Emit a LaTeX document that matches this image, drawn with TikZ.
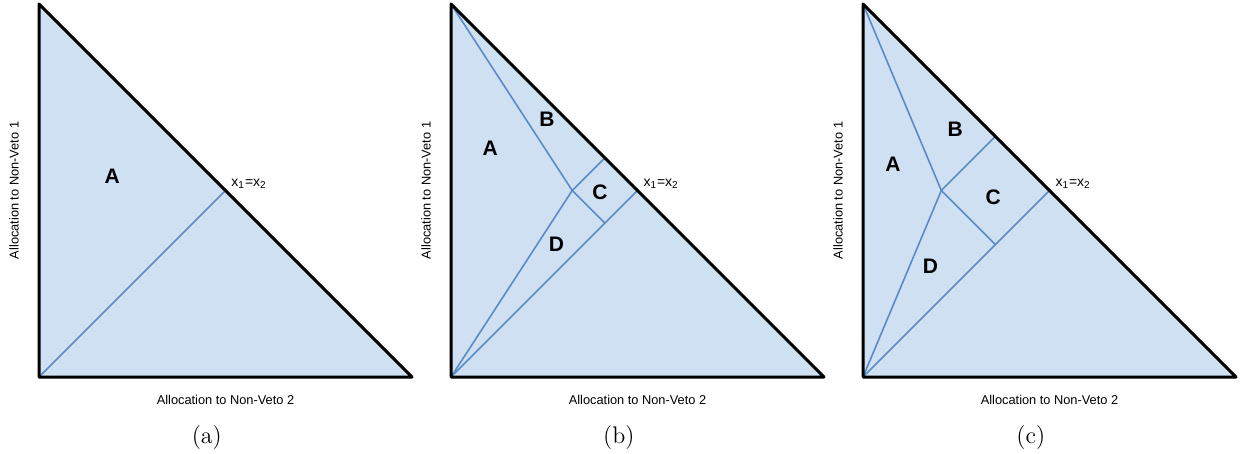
\documentclass[tikz,border=0pt]{standalone}
\usepackage{fontspec}
\usepackage{tikz}
\newfontfamily\arialfont{Liberation Sans}
\definecolor{PaleBlue}{HTML}{CFE0F3}
\definecolor{SteelBlue}{HTML}{5B8BC5}
\usetikzlibrary{calc}
\tikzset{
    frontier/.style={draw=black, line width=1.5pt, line join=round},
    split/.style={draw=SteelBlue, line width=0.8pt},
    letter/.style={font=\arialfont\bfseries\fontsize{10.5}{12}\selectfont},
    axislabel/.style={font=\arialfont\fontsize{6.4}{7.5}\selectfont},
    diaglabel/.style={font=\arialfont\fontsize{7}{8}\selectfont, anchor=base west, inner sep=0pt},
    caption/.style={font=\fontsize{12}{14}\selectfont},
}

\begin{document}
\begin{tikzpicture}[x=186.5pt, y=186.5pt]
    \useasboundingbox (0pt,0pt) rectangle (621pt,-227pt);

    % Panel (a)
    \begin{scope}[shift={(19.5pt,-188.5pt)}]
        \coordinate (Oa) at (0,0);
        \coordinate (Ta) at (0,1);
        \coordinate (Ra) at (1,0);
        \coordinate (Ma) at (0.5,0.5); % x1 = x2
        \fill[PaleBlue] (Oa) -- (Ta) -- (Ra) -- cycle;
        \draw[split] (Oa) -- (Ma);
        \draw[frontier] (Ra) -- (Oa) -- (Ta) -- cycle;
        \node[letter] (Aa) at (0.196,0.539) {A};
        \node[diaglabel] (eqa) at (0.515,0.510) {x\textsubscript{1}=x\textsubscript{2}};
        \node[axislabel, rotate=90] (ya) at (-0.067,0.5) {Allocation to Non-Veto 1};
        \node[axislabel] (xa) at (0.5,-0.0617) {Allocation to Non-Veto 2};
        \node[caption] (capa) at (0.45,-0.161) {(a)};
    \end{scope}

    % Panel (b)
    \begin{scope}[shift={(225.5pt,-188.5pt)}]
        \coordinate (Ob) at (0,0);
        \coordinate (Tb) at (0,1);
        \coordinate (Rb) at (1,0);
        \coordinate (Mb) at (0.5,0.5); % x1 = x2
        \coordinate (Jb) at (0.325,0.5); % junction
        \coordinate (Lb) at (0.4125,0.5875); % on frontier
        \coordinate (Kb) at (0.4125,0.4125); % on diagonal
        \fill[PaleBlue] (Ob) -- (Tb) -- (Rb) -- cycle;
        \draw[split] (Ob) -- (Mb);
        \draw[split] (Tb) -- (Jb) -- (Kb);
        \draw[split] (Ob) -- (Jb) -- (Lb);
        \draw[frontier] (Rb) -- (Ob) -- (Tb) -- cycle;
        \node[letter] (Ab) at (0.105,0.613) {A};
        \node[letter] (Bb) at (0.257,0.690) {B};
        \node[letter] (Cb) at (0.399,0.495) {C};
        \node[letter] (Db) at (0.283,0.357) {D};
        \node[diaglabel] (eqb) at (0.515,0.510) {x\textsubscript{1}=x\textsubscript{2}};
        \node[axislabel, rotate=90] (yb) at (-0.067,0.5) {Allocation to Non-Veto 1};
        \node[axislabel] (xb) at (0.5,-0.0617) {Allocation to Non-Veto 2};
        \node[caption] (capb) at (0.45,-0.161) {(b)};
    \end{scope}

    % Panel (c)
    \begin{scope}[shift={(431.5pt,-188.5pt)}]
        \coordinate (Oc) at (0,0);
        \coordinate (Tc) at (0,1);
        \coordinate (Rc) at (1,0);
        \coordinate (Mc) at (0.5,0.5); % x1 = x2
        \coordinate (Jc) at (0.21,0.5); % junction
        \coordinate (Lc) at (0.355,0.645); % on frontier
        \coordinate (Kc) at (0.355,0.355); % on diagonal
        \fill[PaleBlue] (Oc) -- (Tc) -- (Rc) -- cycle;
        \draw[split] (Oc) -- (Mc);
        \draw[split] (Tc) -- (Jc) -- (Kc);
        \draw[split] (Oc) -- (Jc) -- (Lc);
        \draw[frontier] (Rc) -- (Oc) -- (Tc) -- cycle;
        \node[letter] (Ac) at (0.080,0.570) {A};
        \node[letter] (Bc) at (0.247,0.664) {B};
        \node[letter] (Cc) at (0.349,0.482) {C};
        \node[letter] (Dc) at (0.181,0.298) {D};
        \node[diaglabel] (eqc) at (0.515,0.510) {x\textsubscript{1}=x\textsubscript{2}};
        \node[axislabel, rotate=90] (yc) at (-0.067,0.5) {Allocation to Non-Veto 1};
        \node[axislabel] (xc) at (0.5,-0.0617) {Allocation to Non-Veto 2};
        \node[caption] (capc) at (0.45,-0.161) {(c)};
    \end{scope}
\end{tikzpicture}
\end{document}
